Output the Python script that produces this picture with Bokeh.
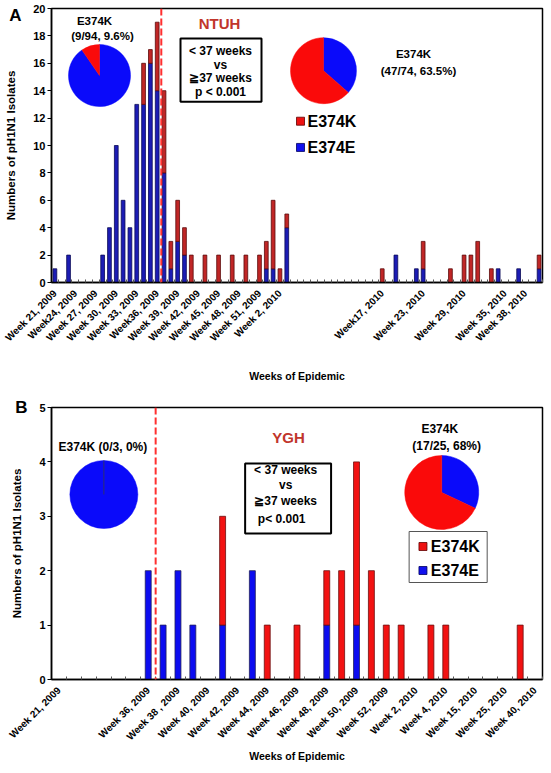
import math
from bokeh.plotting import figure
from bokeh.models import (Range1d, FixedTicker, Span, BoxAnnotation, Label, ColumnDataSource,
                          LinearAxis)
from bokeh.layouts import column
from bokeh.embed import file_html
from bokeh.resources import INLINE

FONT = "Liberation Sans"

# ---------------- Panel A (NTUH) data ----------------
A_categories = [f"Week {w}, 2009" for w in range(21, 53)] + [f"Week {w}, 2010" for w in range(1, 41)]
A_tick_labels = ["Week 21, 2009", "Week24, 2009", "Week 27, 2009", "Week 30, 2009", "Week 33, 2009",
                 "Week36, 2009", "Week 39, 2009", "Week 42, 2009", "Week 45, 2009", "Week 48, 2009",
                 "Week 51, 2009", "Week 2, 2010", "Week17, 2010", "Week 23, 2010", "Week 29, 2010",
                 "Week 35, 2010", "Week 38, 2010"]
A_weeks = ["Week 21, 2009", "Week 23, 2009", "Week 28, 2009", "Week 29, 2009", "Week 30, 2009",
           "Week 31, 2009", "Week 32, 2009", "Week 33, 2009", "Week 34, 2009", "Week 35, 2009",
           "Week 36, 2009", "Week 37, 2009", "Week 38, 2009", "Week 39, 2009", "Week 40, 2009",
           "Week 41, 2009", "Week 43, 2009", "Week 45, 2009", "Week 47, 2009", "Week 49, 2009",
           "Week 51, 2009", "Week 52, 2009", "Week 1, 2010", "Week 2, 2010", "Week 3, 2010",
           "Week 17, 2010", "Week 19, 2010", "Week 22, 2010", "Week 23, 2010", "Week 27, 2010",
           "Week 29, 2010", "Week 30, 2010", "Week 31, 2010", "Week 33, 2010", "Week 34, 2010",
           "Week 37, 2010", "Week 40, 2010"]
A_E374E = [1, 2, 2, 4, 10, 6, 4, 13, 13, 16, 14, 8, 1, 3, 2, 0, 0, 0, 0, 0,
           0, 1, 1, 0, 4, 0, 2, 1, 1, 0, 0, 0, 0, 0, 1, 1, 1]
A_E374K = [0, 0, 0, 0, 0, 0, 0, 0, 3, 1, 5, 6, 2, 3, 2, 2, 2, 2, 2, 2,
           2, 2, 5, 1, 1, 1, 0, 0, 2, 1, 2, 2, 3, 1, 0, 0, 1]
A_pie_early = [9, 94]    # E374K, total (< 37 weeks)
A_pie_late = [47, 74]    # E374K, total (>= 37 weeks)

# ---------------- Panel B (YGH) data ----------------
B_categories = ["Week 21, 2009", "", "", "", "", "", "Week 36, 2009", "Week 37, 2009", "Week 38 , 2009",
                "Week 39, 2009", "Week 40, 2009", "Week 41, 2009", "Week 42, 2009", "Week 43, 2009",
                "Week 44, 2009", "Week 45, 2009", "Week 46, 2009", "Week 47, 2009", "Week 48, 2009",
                "Week 49, 2009", "Week 50, 2009", "Week 51, 2009", "Week 52, 2009", "Week 1, 2010",
                "Week 2, 2010", "Week 3, 2010", "Week 4, 2010", "", "Week 15, 2010", "",
                "Week 25, 2010", "", "Week 40, 2010"]
B_tick_labels = ["Week 21, 2009", "Week 36, 2009", "Week 38 , 2009", "Week 40, 2009", "Week 42, 2009",
                 "Week 44, 2009", "Week 46, 2009", "Week 48, 2009", "Week 50, 2009", "Week 52, 2009",
                 "Week 2, 2010", "Week 4, 2010", "Week 15, 2010", "Week 25, 2010", "Week 40, 2010"]
B_E374E = [0, 0, 0, 0, 0, 0, 2, 1, 2, 1, 0, 1, 0, 2, 0, 0, 0, 0, 1, 0, 1,
           0, 0, 0, 0, 0, 0, 0, 0, 0, 0, 0, 0]
B_E374K = [0, 0, 0, 0, 0, 0, 0, 0, 0, 0, 0, 2, 0, 0, 1, 0, 1, 0, 1, 2, 3,
           2, 1, 1, 0, 1, 1, 0, 0, 0, 0, 1, 0]
B_pie_early = [0, 3]
B_pie_late = [17, 25]

LEGEND_NAMES = ["E374K", "E374E"]
X_TITLE = "Weeks of Epidemic"
Y_TITLE = "Numbers of pH1N1 Isolates"

FIG_W = 549


def norm(s):
    return " ".join(s.replace("Week", "Week ").replace(" ,", ",").split())


def make_panel(height, n_cats, ymax, ystep, border, title_standoff, letter, letter_y):
    p = figure(width=FIG_W, height=height, output_backend="svg", toolbar_location=None,
               x_range=Range1d(-0.5, n_cats - 0.5), y_range=Range1d(0, ymax),
               min_border_left=border[0], min_border_right=border[1],
               min_border_top=border[2], min_border_bottom=border[3])
    p.xgrid.visible = False
    p.ygrid.visible = False
    p.outline_line_color = "black"
    p.outline_line_width = 1.5
    p.outline_line_alpha = 1
    p.background_fill_color = "white"
    p.border_fill_color = "white"
    for ax in (p.xaxis[0], p.yaxis[0]):
        ax.axis_line_color = "black"
        ax.axis_line_width = 1.5
        ax.major_label_text_font = FONT
        ax.major_label_text_font_style = "bold"
        ax.axis_label_text_font = FONT
        ax.axis_label_text_font_style = "bold"
        ax.axis_label_text_color = "black"
        ax.major_label_text_color = "black"
    y = p.yaxis[0]
    y.ticker = FixedTicker(ticks=list(range(0, ymax + 1, ystep)))
    y.major_label_text_font_size = "11px"
    y.major_tick_out = 4
    y.major_tick_in = 0
    y.major_tick_line_color = "black"
    y.minor_tick_line_color = None
    y.major_label_standoff = 2
    # outer left axis: carries the panel letter (as its only tick label) and the y title
    outer = LinearAxis(ticker=FixedTicker(ticks=[letter_y]),
                       major_label_overrides={letter_y: letter},
                       axis_line_color=None, major_tick_line_color=None,
                       minor_tick_line_color=None, major_tick_in=0, major_tick_out=0,
                       major_label_standoff=9,
                       major_label_text_font=FONT, major_label_text_font_style="bold",
                       major_label_text_font_size="17px", major_label_text_color="black",
                       axis_label=Y_TITLE, axis_label_text_font=FONT,
                       axis_label_text_font_style="bold", axis_label_text_font_size="11.5px",
                       axis_label_text_color="black", axis_label_standoff=-11)
    p.add_layout(outer, "left")
    x = p.xaxis[0]
    x.major_label_text_font_size = "10px"
    x.major_label_orientation = math.pi / 4
    x.major_tick_line_color = None
    x.major_tick_out = 0
    x.major_tick_in = 0
    x.minor_tick_in = 3
    x.minor_tick_out = 0
    x.minor_tick_line_color = "#555555"
    x.major_label_standoff = 9
    x.axis_label = X_TITLE
    x.axis_label_text_font_size = "10.5px"
    x.axis_label_standoff = title_standoff
    return p


def converters(frame, n_cats, ymax):
    L, R, T, B = frame
    def dx(px):
        return -0.5 + (px - L) / (R - L) * n_cats
    def dy(py):
        return (B - py) / (B - T) * ymax
    return dx, dy


def add_text(p, x, y, text, size, color="black", align="center"):
    p.add_layout(Label(x=x, y=y, text=text, text_font=FONT, text_font_style="bold",
                       text_font_size=size, text_color=color, text_align=align,
                       text_baseline="middle"))


def add_pie(p, x, y, r, k, total, red, blue):
    frac = k / total
    top = math.pi / 2
    e_frac = 1 - frac
    if frac == 0:
        p.scatter(x=[x], y=[y], marker="circle", size=2 * r, fill_color=blue,
                  line_color=blue, line_width=0.5)
        p.ray(x=[x], y=[y], length=r, length_units="screen", angle=top,
              line_color="#303070", line_width=1)
        return
    if e_frac > 0:   # E374E clockwise from 12 o'clock
        p.wedge(x=[x], y=[y], radius=r, radius_units="screen",
                start_angle=top - e_frac * 2 * math.pi, end_angle=top,
                fill_color=blue, line_color=blue, line_width=0.5)
    p.wedge(x=[x], y=[y], radius=r, radius_units="screen",
            start_angle=top, end_angle=top + frac * 2 * math.pi,
            fill_color=red, line_color=red, line_width=0.5)


def add_bars(p, xs, e_vals, k_vals, width, ecol, eline, kcol, kline):
    e_src = ColumnDataSource(dict(x=[x for x, e in zip(xs, e_vals) if e > 0],
                                  top=[e for e in e_vals if e > 0]))
    k_src = ColumnDataSource(dict(x=[x for x, k in zip(xs, k_vals) if k > 0],
                                  bottom=[e for e, k in zip(e_vals, k_vals) if k > 0],
                                  top=[e + k for e, k in zip(e_vals, k_vals) if k > 0]))
    p.vbar(x="x", top="top", bottom=0, width=width, source=e_src,
           fill_color=ecol, line_color=eline, line_width=0.8)
    p.vbar(x="x", top="top", bottom="bottom", width=width, source=k_src,
           fill_color=kcol, line_color=kline, line_width=0.8)


def add_box(p, left, right, top, bottom, color, width):
    p.add_layout(BoxAnnotation(left=left, right=right, top=top, bottom=bottom,
                               fill_color="white", fill_alpha=1, line_color=color,
                               line_alpha=1, line_width=width))


RED_PIE = "#fa0a0a"
BLUE_PIE = "#0a0afa"
TITLE_RED = "#c1352b"
DASH_RED = "#ff3030"

# ================= Panel A =================
HA = 385
A_frame = (51, 542, 8, 290)          # figure pixels: left, right, top, bottom of plot frame
pA = make_panel(HA, len(A_categories), 20, 2, (51, FIG_W - 542, 8, HA - 290), 20, "A", 19.5)
dxA, dyA = converters(A_frame, len(A_categories), 20)
A_tick_pos = [A_categories.index(norm(t)) for t in A_tick_labels]
pA.xaxis[0].ticker = FixedTicker(ticks=A_tick_pos,
                                 minor_ticks=[i + 0.5 for i in range(-1, len(A_categories))])
pA.xaxis[0].major_label_overrides = {pos: t for pos, t in zip(A_tick_pos, A_tick_labels)}

A_x = [A_categories.index(w) for w in A_weeks]
add_bars(pA, A_x, A_E374E, A_E374K, 0.55, "#1c1cb4", "#0a0a55", "#c02626", "#5a0a0a")
pA.add_layout(Span(location=A_categories.index("Week 37, 2009") - 0.4, dimension="height",
                   line_color=DASH_RED, line_width=2, line_dash="7 3"))

add_text(pA, dxA(94), dyA(21), "E374K", "11.5px")
add_text(pA, dxA(102), dyA(36), f"({A_pie_early[0]}/{A_pie_early[1]}, {100 * A_pie_early[0] / A_pie_early[1]:.1f}%)", "11.5px")
add_pie(pA, dxA(99), dyA(77), 31, A_pie_early[0], A_pie_early[1], RED_PIE, BLUE_PIE)
add_text(pA, dxA(219), dyA(23), "NTUH", "15px", TITLE_RED)
add_box(pA, dxA(180), dxA(261), dyA(39), dyA(104), "black", 2)
add_text(pA, dxA(220), dyA(52), "< 37 weeks", "12px")
add_text(pA, dxA(220), dyA(66), "vs", "12px")
add_text(pA, dxA(220), dyA(80), "\u226737 weeks", "12px")
add_text(pA, dxA(220), dyA(94), "p < 0.001", "12px")
add_pie(pA, dxA(323), dyA(72), 33, A_pie_late[0], A_pie_late[1], RED_PIE, BLUE_PIE)
add_text(pA, dxA(413), dyA(55), "E374K", "11.5px")
add_text(pA, dxA(418), dyA(72), f"({A_pie_late[0]}/{A_pie_late[1]}, {100 * A_pie_late[0] / A_pie_late[1]:.1f}%)", "11.5px")
pA.scatter(x=[dxA(300), dxA(300)], y=[dyA(124), dyA(151)], marker="square", size=8,
           fill_color=["#ee1111", "#1111ee"], line_color=["#600000", "#000060"], line_width=0.8)
add_text(pA, dxA(307), dyA(124), LEGEND_NAMES[0], "16px", align="left")
add_text(pA, dxA(307), dyA(151), LEGEND_NAMES[1], "16px", align="left")

# ================= Panel B =================
B_TOP = HA                      # page y where panel B starts
HB = 385
B_frame = (50, 547, 407 - B_TOP, 679 - B_TOP)
pB = make_panel(HB, len(B_categories), 5, 1, (50, FIG_W - 547, B_frame[2], HB - B_frame[3]), 1, "B", 5)
dxB0, dyB0 = converters(B_frame, len(B_categories), 5)
dxB = dxB0
def dyB(py):
    return dyB0(py - B_TOP)
B_tick_pos = [B_categories.index(t) for t in B_tick_labels]
pB.xaxis[0].ticker = FixedTicker(ticks=B_tick_pos,
                                 minor_ticks=[i + 0.5 for i in range(-1, len(B_categories))])
pB.xaxis[0].major_label_overrides = {pos: t for pos, t in zip(B_tick_pos, B_tick_labels)}

B_x = list(range(len(B_categories)))
add_bars(pB, B_x, B_E374E, B_E374K, 0.4, "#0c0cf0", "#20205a", "#f21212", "#6a1010")
pB.add_layout(Span(location=B_categories.index("Week 37, 2009") - 0.5, dimension="height",
                   line_color=DASH_RED, line_width=2, line_dash="7 3"))

add_text(pB, dxB(102), dyB(446), f"E374K ({B_pie_early[0]}/{B_pie_early[1]}, {100 * B_pie_early[0] // B_pie_early[1]}%)", "12px")
add_pie(pB, dxB(103), dyB(494), 34, B_pie_early[0], B_pie_early[1], RED_PIE, BLUE_PIE)
add_text(pB, dxB(290), dyB(437), "YGH", "15px", TITLE_RED)
add_box(pB, dxB(246), dxB(333), dyB(463), dyB(533), "black", 2)
add_text(pB, dxB(287), dyB(469), "< 37 weeks", "12px")
add_text(pB, dxB(287), dyB(484), "vs", "12px")
add_text(pB, dxB(287), dyB(500), "\u226737 weeks", "12px")
add_text(pB, dxB(283), dyB(518), "p< 0.001", "12px")
add_pie(pB, dxB(445), dyB(492), 37, B_pie_late[0], B_pie_late[1], RED_PIE, BLUE_PIE)
add_text(pB, dxB(443), dyB(428), "E374K", "12px")
add_text(pB, dxB(450), dyB(445), f"({B_pie_late[0]}/{B_pie_late[1]}, {100 * B_pie_late[0] // B_pie_late[1]}%)", "12px")
add_box(pB, dxB(412), dxB(491), dyB(531), dyB(582), "#555555", 1)
pB.scatter(x=[dxB(426), dxB(426)], y=[dyB(546), dyB(570)], marker="square", size=8,
           fill_color=["#ee1111", "#1111ee"], line_color=["#600000", "#000060"], line_width=0.8,
           level="overlay")
add_text(pB, dxB(434), dyB(546), LEGEND_NAMES[0], "16px", align="left")
add_text(pB, dxB(434), dyB(570), LEGEND_NAMES[1], "16px", align="left")

layout = column(pA, pB, spacing=0)
open("out.html", "w").write(file_html(layout, INLINE))
